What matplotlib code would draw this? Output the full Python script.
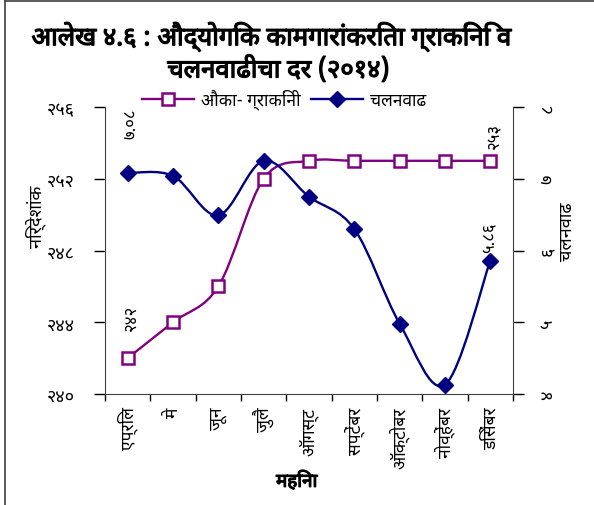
import matplotlib
matplotlib.use('Agg')
import matplotlib.pyplot as plt
import matplotlib.patheffects as pe
from matplotlib.path import Path
from matplotlib.patches import PathPatch
from matplotlib.lines import Line2D
import numpy as np

FAM = ['Noto Sans Devanagari', 'Lohit Devanagari', 'DejaVu Sans']
plt.rcParams['font.family'] = FAM
BOLD = [pe.withStroke(linewidth=0.9, foreground='black')]

months = ['एप्रिल', 'मे', 'जून', 'जुलै', 'ऑगस्ट', 'सप्टेंबर', 'ऑक्टोबर', 'नोव्हेंबर', 'डिसेंबर']
cpi = [242, 244, 246, 252, 253, 253, 253, 253, 253]
inflation = [7.08, 7.04, 6.49, 7.25, 6.75, 6.30, 4.98, 4.13, 5.86]
left_ticks = [240, 244, 248, 252, 256]
left_ticklabels = ['२४०', '२४४', '२४८', '२५२', '२५६']
right_ticks = [4, 5, 6, 7, 8]
right_ticklabels = ['४', '५', '६', '७', '८']
title_lines = ['आलेख ४.६ : औद्योगिक कामगारांकरिता ग्राकिंनि व', 'चलनवाढीचा दर (२०१४)']
series_names = ['औका- ग्राकिंनी', 'चलनवाढ']
point_labels_cpi = {0: '२४२', 8: '२५३'}
point_labels_inf = {0: '७.०८', 8: '५.८६'}

PURPLE = '#800080'
NAVY = '#000080'


def smooth_path(xs, ys):
    xs = np.asarray(xs, float)
    ys = np.asarray(ys, float)
    n = len(xs)
    verts = [(xs[0], ys[0])]
    codes = [Path.MOVETO]
    for i in range(n - 1):
        i0 = max(i - 1, 0)
        i3 = min(i + 2, n - 1)
        c1 = (xs[i] + (xs[i + 1] - xs[i0]) / 6.0, ys[i] + (ys[i + 1] - ys[i0]) / 6.0)
        c2 = (xs[i + 1] - (xs[i3] - xs[i]) / 6.0, ys[i + 1] - (ys[i3] - ys[i]) / 6.0)
        verts += [c1, c2, (xs[i + 1], ys[i + 1])]
        codes += [Path.CURVE4] * 3
    return Path(verts, codes)


fig = plt.figure(figsize=(5.94, 5.06), dpi=100)
ax = fig.add_axes([105 / 594, 1 - 395 / 506, 408 / 594, 287 / 506])
ax2 = ax.twinx()

x = np.arange(len(months))

ax.add_patch(PathPatch(smooth_path(x, cpi), fill=False, edgecolor=PURPLE, lw=1.7,
                       transform=ax.transData, zorder=3))
ax.plot(x, cpi, ls='none', marker='s', ms=9, mfc='white', mec=PURPLE, mew=1.8, zorder=4)

ax2.add_patch(PathPatch(smooth_path(x, inflation), fill=False, edgecolor=NAVY, lw=1.7,
                        transform=ax2.transData, zorder=3))
ax2.plot(x, inflation, ls='none', marker='D', ms=8.5, mfc=NAVY, mec=NAVY, zorder=4)

ax.set_xlim(-0.5, len(months) - 0.5)
ax.set_ylim(240, 256)
ax2.set_ylim(4, 8)

ax.set_xticks(np.arange(-0.5, len(months)), minor=False)
ax.set_xticklabels([])
ax.set_xticks(x, minor=True)
ax.set_xticklabels(months, minor=True, rotation=90, fontsize=12.5, va='top', ha='center')
ax.tick_params(axis='x', which='major', direction='out', length=5, width=1)
ax.tick_params(axis='x', which='minor', length=0, pad=9)

ax.set_yticks(left_ticks)
ax.set_yticklabels(left_ticklabels, fontsize=13)
ax.tick_params(axis='y', direction='out', length=8, width=1, pad=14)
ax2.set_yticks(right_ticks)
ax2.set_yticklabels(right_ticklabels, fontsize=13, rotation=90, va='center')
ax2.tick_params(axis='y', direction='out', length=8, width=1, pad=10)

for a in (ax, ax2):
    a.spines['top'].set_visible(False)
    for s in a.spines.values():
        s.set_color('#404040')
ax.spines['right'].set_visible(False)
ax2.spines['left'].set_visible(False)
ax2.spines['bottom'].set_visible(False)

ax.set_ylabel('निर्देशांक', fontsize=13)
ax.yaxis.set_label_coords(-0.145, 0.62)
ax2.set_ylabel('चलनवाढ', fontsize=13, rotation=90)
ax2.yaxis.set_label_coords(1.11, 0.57)
xl = ax.set_xlabel('महिना', fontsize=13.5)
xl.set_path_effects(BOLD)
ax.xaxis.set_label_coords(0.47, -0.27)

offs_cpi = {0: (4, 28), 8: (5, 13)}
for i, t in point_labels_cpi.items():
    ax.annotate(t, (x[i], cpi[i]), xytext=offs_cpi[i], textcoords='offset pixels',
                rotation=90, ha='center', va='bottom', fontsize=12)
offs_inf = {0: (4, 35), 8: (0, 9)}
for i, t in point_labels_inf.items():
    ax2.annotate(t, (x[i], inflation[i]), xytext=offs_inf[i], textcoords='offset pixels',
                 rotation=90, ha='center', va='bottom', fontsize=12)

handles = [
    Line2D([], [], color=PURPLE, lw=1.7, marker='s', ms=9, mfc='white', mec=PURPLE, mew=1.8),
    Line2D([], [], color=NAVY, lw=1.7, marker='D', ms=8.5, mfc=NAVY, mec=NAVY),
]
fig.legend(handles, series_names, loc='center', bbox_to_anchor=(284 / 594, 1 - 100 / 506),
           ncol=2, frameon=False, fontsize=12.5, handlelength=3.0, columnspacing=0.6,
           handletextpad=0.4, borderaxespad=0)

t1 = fig.text(271 / 594, 1 - 38 / 506, title_lines[0], ha='center', va='center',
              fontsize=18.5)
t2 = fig.text(278 / 594, 1 - 71 / 506, title_lines[1], ha='center', va='center',
              fontsize=18.5)
for t in (t1, t2):
    t.set_path_effects(BOLD)

fig.add_artist(Line2D([5 / 594, 5 / 594], [0, 1 - 2 / 506], transform=fig.transFigure,
                      color='#404040', lw=1.2))
fig.add_artist(Line2D([5 / 594, 1], [1 - 2 / 506, 1 - 2 / 506], transform=fig.transFigure,
                      color='#404040', lw=1.2))

fig.savefig('out.png', dpi=100)
